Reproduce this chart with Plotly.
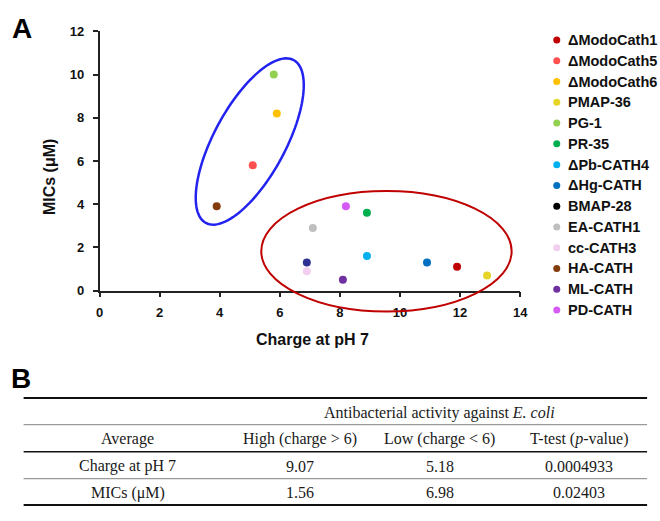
import math
import plotly.graph_objects as go

# ---------------- data ----------------
peptides = ["ΔModoCath1", "ΔModoCath5", "ΔModoCath6", "PMAP-36", "PG-1", "PR-35",
            "ΔPb-CATH4", "ΔHg-CATH", "BMAP-28", "EA-CATH1", "cc-CATH3", "HA-CATH",
            "ML-CATH", "PD-CATH"]
charge_ph7 = [11.9, 5.1, 5.9, 12.9, 5.8, 8.9, 8.9, 10.9, 6.9, 7.1, 6.9, 3.9, 8.1, 8.2]
mics_um = [1.1, 5.8, 8.2, 0.7, 10.0, 3.6, 1.6, 1.3, 1.3, 2.9, 0.9, 3.9, 0.5, 3.9]

x_ticks = [0, 2, 4, 6, 8, 10, 12, 14]
y_ticks = [0, 2, 4, 6, 8, 10, 12]

table_group_header = "Antibacterial activity against <i>E. coli</i>"
table_columns = ["Average", "High (charge > 6)", "Low (charge < 6)", "T-test (<i>p</i>-value)"]
table_row_labels = ["Charge at pH 7", "MICs (μM)"]
table_high = ["9.07", "1.56"]
table_low = ["5.18", "6.98"]
table_pvalue = ["0.0004933", "0.02403"]

# group ellipses (centre in data units)
low_group_center = (5.0, 6.9)
high_group_center = (9.55, 1.82)

# ---------------- styles ----------------
point_colors = ["#C00000", "#FF5050", "#FFC000", "#E6D428", "#92D050", "#00B050",
                "#00B0F0", "#0070C0", "#2E3192", "#BFBFBF", "#F2CEEF", "#843C0C",
                "#7030A0", "#D65BF5"]
legend_colors = list(point_colors)
legend_colors[8] = "#000000"

W, H = 660, 521
SANS = "Liberation Sans, Arial, sans-serif"
SERIF = "Liberation Serif, Times New Roman, serif"

# plot box in pixels
PX_L, PX_R, PX_T, PX_B = 97.3, 525.7, 25.0, 292.0
X_RANGE = [0, 14]
Y_RANGE = [0, 12]


def px(x):
    return x / W


def py(y):
    return 1 - y / H


def data_to_px(xv, yv):
    xp = PX_L + (xv - X_RANGE[0]) / (X_RANGE[1] - X_RANGE[0]) * (PX_R - PX_L)
    yp = PX_B - (yv - Y_RANGE[0]) / (Y_RANGE[1] - Y_RANGE[0]) * (PX_B - PX_T)
    return xp, yp


fig = go.Figure()

fig.add_trace(go.Scatter(
    x=charge_ph7, y=mics_um, mode="markers",
    marker=dict(color=point_colors, size=8, line=dict(width=0)),
    text=peptides, hoverinfo="text+x+y", showlegend=False,
))

# legend dots on an auxiliary axis pair
n = len(peptides)
LEG_DOT_X = 563
LEG_TEXT_X = 572
LEG_Y0, LEG_DY = 34.0, 21.385
fig.add_trace(go.Scatter(
    x=[0] * n, y=list(range(n)), mode="markers",
    marker=dict(color=legend_colors, size=7, line=dict(width=0)),
    text=peptides, cliponaxis=False, showlegend=False, hoverinfo="text",
    xaxis="x2", yaxis="y2",
))

shapes = []
# blue ellipse (rotated) as path
cx, cy = data_to_px(*low_group_center)
a, b, th = 95.0, 36.5, math.radians(62)
pts = []
for k in range(121):
    t = 2 * math.pi * k / 120
    ex = cx + a * math.cos(t) * math.cos(th) - b * math.sin(t) * math.sin(th)
    ey = cy - (a * math.cos(t) * math.sin(th) + b * math.sin(t) * math.cos(th))
    pts.append(f"{px(ex):.5f},{py(ey):.5f}")
path = "M" + " L".join(pts) + " Z"
shapes.append(dict(type="path", path=path, xref="paper", yref="paper",
                   line=dict(color="#2323F0", width=2.5)))

# red ellipse
rcx, rcy = data_to_px(*high_group_center)
rx, ry = 127.5, 62.0
shapes.append(dict(type="circle", xref="paper", yref="paper",
                   x0=px(rcx - rx), x1=px(rcx + rx), y0=py(rcy + ry), y1=py(rcy - ry),
                   line=dict(color="#C00000", width=2)))

# table rules
rule_specs = [(402.7, "#111", 2.0), (430.0, "#9A9A9A", 1.2), (458.0, "#111", 1.6),
              (485.7, "#9A9A9A", 1.2), (512.7, "#111", 2.0)]
for yy, col, wd in rule_specs:
    shapes.append(dict(type="line", xref="paper", yref="paper",
                       x0=px(20), x1=px(655), y0=py(yy), y1=py(yy),
                       line=dict(color=col, width=wd)))

annotations = []


def ann(text, x, y, font, **kw):
    d = dict(text=text, x=px(x), y=py(y), xref="paper", yref="paper", showarrow=False,
             xanchor="center", yanchor="middle", font=font)
    d.update(kw)
    annotations.append(d)


big = dict(family=SANS, size=28, color="#000")
ann("<b>A</b>", 18, 22, big)
ann("<b>B</b>", 17, 383, big)
ann("<b>Charge at pH 7</b>", 314, 342, dict(family=SANS, size=16, color="#111"))
ann("<b>MICs (μM)</b>", 47, 175, dict(family=SANS, size=16, color="#111"), textangle=-90)

# legend labels
lfont = dict(family=SANS, size=14.5, color="#111")
for i, name in enumerate(peptides):
    ann(f"<b>{name}</b>", LEG_TEXT_X, LEG_Y0 + i * LEG_DY, lfont, xanchor="left")

col_x = [126, 301, 444, 586]
tfont = dict(family=SERIF, size=16, color="#1a1a1a")
ann(table_group_header, 444, 418, tfont)
for cxp, lab in zip(col_x, table_columns):
    ann(lab, cxp, 445, tfont)
row_y = [473, 500]
for i, ry_ in enumerate(row_y):
    vals = [table_row_labels[i], table_high[i], table_low[i], table_pvalue[i]]
    for cxp, v in zip(col_x, vals):
        ann(v, cxp, ry_, tfont)

axis_common = dict(showline=True, linecolor="#222", linewidth=1.5, ticks="outside",
                   ticklen=5, tickwidth=1.5, tickcolor="#222", showgrid=False,
                   zeroline=False,
                   tickfont=dict(family=SANS, size=13, color="#111", weight="bold"))

leg_top = LEG_Y0 - 0.5 * LEG_DY
leg_bot = LEG_Y0 + (n - 1) * LEG_DY + 0.5 * LEG_DY

fig.update_layout(
    width=W, height=H,
    margin=dict(l=0, r=0, t=0, b=0),
    paper_bgcolor="white", plot_bgcolor="white",
    showlegend=False,
    xaxis=dict(domain=[px(PX_L), px(PX_R)], range=X_RANGE, tickvals=x_ticks,
               anchor="y", ticklabelstandoff=4, **axis_common),
    yaxis=dict(domain=[py(PX_B), py(PX_T)], range=Y_RANGE, tickvals=y_ticks,
               anchor="x", ticklabelstandoff=6, **axis_common),
    xaxis2=dict(domain=[px(LEG_DOT_X), 1.0], range=[0, 1], visible=False, anchor="y2",
                fixedrange=True),
    yaxis2=dict(domain=[py(leg_bot), py(leg_top)], range=[n - 0.5, -0.5], visible=False,
                anchor="x2", fixedrange=True),
    shapes=shapes,
    annotations=annotations,
)

fig.write_html("out.html", config={"displayModeBar": False},
               post_script="document.body.style.margin='0';")
